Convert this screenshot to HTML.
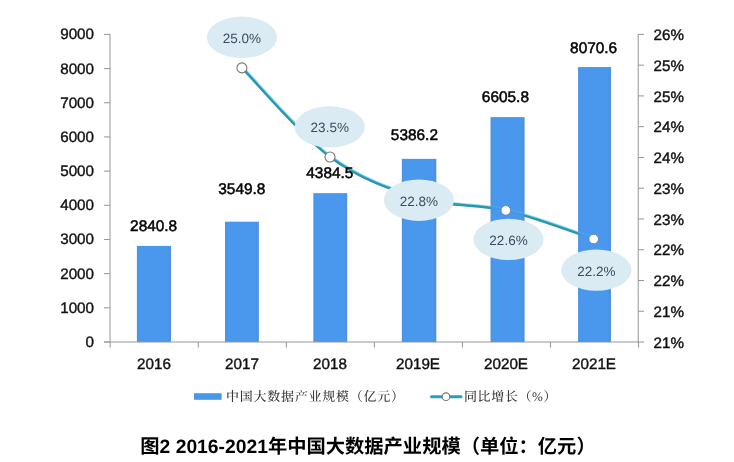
<!DOCTYPE html>
<html lang="zh-CN">
<head>
<meta charset="utf-8">
<title>图2 2016-2021年中国大数据产业规模</title>
<style>
html,body{margin:0;padding:0;background:#fff;}
body{width:734px;height:462px;overflow:hidden;position:relative;}
</style>
</head>
<body>
<svg width="734" height="462" viewBox="0 0 734 462" style="position:absolute;left:0;top:0" text-rendering="geometricPrecision">
<rect width="734" height="462" fill="#fff"/>
<defs><linearGradient id="bg" x1="0" x2="1" y1="0" y2="0"><stop offset="0" stop-color="#4c93e2"/><stop offset="0.1" stop-color="#4a98ee"/><stop offset="0.88" stop-color="#4a98ee"/><stop offset="1" stop-color="#4f90da"/></linearGradient></defs>
<rect x="136.90" y="245.91" width="34.10" height="96.09" fill="url(#bg)"/>
<rect x="225.00" y="221.68" width="33.85" height="120.32" fill="url(#bg)"/>
<rect x="313.35" y="193.15" width="33.85" height="148.85" fill="url(#bg)"/>
<rect x="401.90" y="158.91" width="34.30" height="183.09" fill="url(#bg)"/>
<rect x="490.70" y="117.23" width="33.70" height="224.77" fill="url(#bg)"/>
<rect x="578.20" y="67.16" width="32.70" height="274.84" fill="url(#bg)"/>
<g stroke="#969696" stroke-width="1" fill="none">
<path d="M110 33.9 V342.5"/>
<path d="M638.2 33.9 V342.5"/>
<path d="M104 342.0 H638.7"/>
<path d="M104 34.40 H110"/>
<path d="M104 68.58 H110"/>
<path d="M104 102.76 H110"/>
<path d="M104 136.93 H110"/>
<path d="M104 171.11 H110"/>
<path d="M104 205.29 H110"/>
<path d="M104 239.47 H110"/>
<path d="M104 273.64 H110"/>
<path d="M104 307.82 H110"/>
<path d="M104 342.00 H110"/>
<path d="M638.2 34.40 H644"/>
<path d="M638.2 65.16 H644"/>
<path d="M638.2 95.92 H644"/>
<path d="M638.2 126.68 H644"/>
<path d="M638.2 157.44 H644"/>
<path d="M638.2 188.20 H644"/>
<path d="M638.2 218.96 H644"/>
<path d="M638.2 249.72 H644"/>
<path d="M638.2 280.48 H644"/>
<path d="M638.2 311.24 H644"/>
<path d="M638.2 342.00 H644"/>
<path d="M110.20 342.0 V347.5"/>
<path d="M198.25 342.0 V347.5"/>
<path d="M286.30 342.0 V347.5"/>
<path d="M374.35 342.0 V347.5"/>
<path d="M462.40 342.0 V347.5"/>
<path d="M550.45 342.0 V347.5"/>
<path d="M638.50 342.0 V347.5"/>
</g>
<g font-family="Liberation Sans, sans-serif" font-size="15.2" fill="#111" stroke="#111" stroke-width="0.4">
<text transform="translate(94.00 347.00) scale(1 1.0)" text-anchor="end">0</text>
<text transform="translate(94.00 312.82) scale(1 1.0)" text-anchor="end">1000</text>
<text transform="translate(94.00 278.64) scale(1 1.0)" text-anchor="end">2000</text>
<text transform="translate(94.00 244.47) scale(1 1.0)" text-anchor="end">3000</text>
<text transform="translate(94.00 210.29) scale(1 1.0)" text-anchor="end">4000</text>
<text transform="translate(94.00 176.11) scale(1 1.0)" text-anchor="end">5000</text>
<text transform="translate(94.00 141.93) scale(1 1.0)" text-anchor="end">6000</text>
<text transform="translate(94.00 107.76) scale(1 1.0)" text-anchor="end">7000</text>
<text transform="translate(94.00 73.58) scale(1 1.0)" text-anchor="end">8000</text>
<text transform="translate(94.00 39.40) scale(1 1.0)" text-anchor="end">9000</text>
<text transform="translate(653.50 40.10) scale(1 1.0)">26%</text>
<text transform="translate(653.50 70.86) scale(1 1.0)">25%</text>
<text transform="translate(653.50 101.62) scale(1 1.0)">25%</text>
<text transform="translate(653.50 132.38) scale(1 1.0)">24%</text>
<text transform="translate(653.50 163.14) scale(1 1.0)">24%</text>
<text transform="translate(653.50 193.90) scale(1 1.0)">23%</text>
<text transform="translate(653.50 224.66) scale(1 1.0)">23%</text>
<text transform="translate(653.50 255.42) scale(1 1.0)">22%</text>
<text transform="translate(653.50 286.18) scale(1 1.0)">22%</text>
<text transform="translate(653.50 316.94) scale(1 1.0)">21%</text>
<text transform="translate(653.50 347.70) scale(1 1.0)">21%</text>
<text transform="translate(154.00 369.30) scale(1 1.0)" text-anchor="middle">2016</text>
<text transform="translate(242.00 369.30) scale(1 1.0)" text-anchor="middle">2017</text>
<text transform="translate(330.00 369.30) scale(1 1.0)" text-anchor="middle">2018</text>
<text transform="translate(418.00 369.30) scale(1 1.0)" text-anchor="middle">2019E</text>
<text transform="translate(506.00 369.30) scale(1 1.0)" text-anchor="middle">2020E</text>
<text transform="translate(594.00 369.30) scale(1 1.0)" text-anchor="middle">2021E</text>
</g>
<path d="M241.90 67.90 C256.58 82.75 300.48 135.27 330.00 157.00 C359.52 178.73 389.70 189.40 419.00 198.30 C448.30 207.20 476.68 203.62 505.80 210.40 C534.92 217.18 579.05 234.23 593.70 239.00" fill="none" stroke="#86dcec" stroke-width="2.8" stroke-linecap="round" transform="translate(0.6 -0.6)"/>
<path d="M241.90 67.90 C256.58 82.75 300.48 135.27 330.00 157.00 C359.52 178.73 389.70 189.40 419.00 198.30 C448.30 207.20 476.68 203.62 505.80 210.40 C534.92 217.18 579.05 234.23 593.70 239.00" fill="none" stroke="#2b96af" stroke-width="2.5" stroke-linecap="round"/>
<rect x="401.90" y="158.91" width="34.30" height="183.09" fill="url(#bg)" opacity="0.82"/>
<rect x="490.70" y="117.23" width="33.70" height="224.77" fill="url(#bg)" opacity="0.82"/>
<rect x="578.20" y="67.16" width="32.70" height="274.84" fill="url(#bg)" opacity="0.82"/>
<circle cx="241.9" cy="67.9" r="5" fill="#fff" stroke="#7d7474" stroke-width="1.1"/>
<circle cx="330" cy="157.0" r="5" fill="#fff" stroke="#7d7474" stroke-width="1.1"/>
<circle cx="505.8" cy="210.4" r="4.8" fill="#fff" stroke="#5d7fa8" stroke-width="0.9"/>
<circle cx="593.7" cy="239.0" r="4.8" fill="#fff" stroke="#5d7fa8" stroke-width="0.9"/>
<g font-family="Liberation Sans, sans-serif" font-size="15.4" fill="#000" stroke="#000" stroke-width="0.5" text-anchor="middle">
<text transform="translate(153.60 231.05) scale(1 1.0)">2840.8</text>
<text transform="translate(241.80 193.90) scale(1 1.0)">3549.8</text>
<text transform="translate(329.80 178.30) scale(1 1.0)">4384.5</text>
<text transform="translate(414.40 140.30) scale(1 1.0)">5386.2</text>
<text transform="translate(505.40 102.30) scale(1 1.0)">6605.8</text>
<text transform="translate(593.60 53.30) scale(1 1.0)">8070.6</text>
</g>
<ellipse cx="241.9" cy="37.3" rx="35.1" ry="20.7" fill="#dbebf3"/>
<text transform="translate(241.90 42.70) scale(1 1.0)" text-anchor="middle" font-family="Liberation Sans, sans-serif" font-size="13.5" fill="#3a4d62">25.0%</text>
<ellipse cx="329.75" cy="126.9" rx="35.1" ry="20.7" fill="#dbebf3"/>
<text transform="translate(329.75 132.30) scale(1 1.0)" text-anchor="middle" font-family="Liberation Sans, sans-serif" font-size="13.5" fill="#3a4d62">23.5%</text>
<ellipse cx="418.9" cy="200.2" rx="35.1" ry="20.7" fill="#dbebf3"/>
<text transform="translate(418.90 205.60) scale(1 1.0)" text-anchor="middle" font-family="Liberation Sans, sans-serif" font-size="13.5" fill="#3a4d62">22.8%</text>
<ellipse cx="508.5" cy="239.4" rx="35.1" ry="20.7" fill="#dbebf3"/>
<text transform="translate(508.50 244.80) scale(1 1.0)" text-anchor="middle" font-family="Liberation Sans, sans-serif" font-size="13.5" fill="#3a4d62">22.6%</text>
<ellipse cx="596.3" cy="270.1" rx="35.1" ry="20.7" fill="#dbebf3"/>
<text transform="translate(596.30 275.50) scale(1 1.0)" text-anchor="middle" font-family="Liberation Sans, sans-serif" font-size="13.5" fill="#3a4d62">22.2%</text>
<rect x="194" y="393.2" width="27.6" height="6.6" fill="#4a96e8"/>
<path d="M431.5 396.7 H461" stroke="#2b9dbb" stroke-width="3" stroke-linecap="round"/>
<circle cx="446" cy="396.7" r="3.8" fill="#fff" stroke="#7d7474" stroke-width="1.1"/>
<g font-family="Liberation Serif, Noto Serif CJK SC, serif" font-size="13" font-weight="500" fill="#363636" letter-spacing="0.62">
<text x="226" y="401" letter-spacing="0.75">中国大数据产业规模（亿元）</text>
<text x="464" y="401">同比增长（%）</text>
</g>
<text x="368" y="452.9" text-anchor="middle" font-family="Liberation Sans, Noto Sans CJK SC, sans-serif" font-weight="bold" font-size="19.3" fill="#000">图2 2016-2021年中国大数据产业规模（单位：亿元）</text>
</svg>
</body>
</html>
